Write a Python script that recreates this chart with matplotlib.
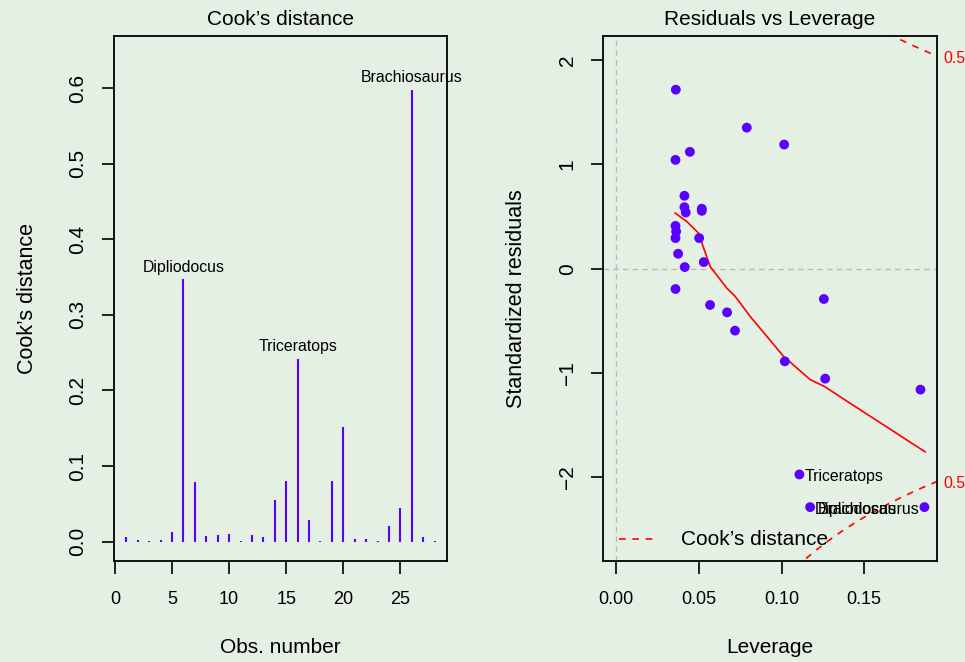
import numpy as np
import matplotlib.pyplot as plt

plt.rcParams['font.family'] = ['Liberation Sans', 'DejaVu Sans']

BG = '#E5F0E4'
PURPLE = '#5A00FF'

# Cook's distance per observation
obs = list(range(1, 29))
cooks = [0.0057, 0.002, 0.0013, 0.002, 0.0132, 0.347, 0.079, 0.0075, 0.0088, 0.0106,
         0.0004, 0.0093, 0.0066, 0.055, 0.080, 0.242, 0.029, 0.0005, 0.0795, 0.151,
         0.0035, 0.003, 0.0009, 0.020, 0.044, 0.598, 0.0062, 0.0003]
cook_labels = {6: 'Dipliodocus', 16: 'Triceratops', 26: 'Brachiosaurus'}

# residuals vs leverage
leverage = [0.0361, 0.079, 0.1016, 0.0446, 0.0359, 0.0413, 0.0413, 0.0421, 0.0518, 0.0518,
            0.0359, 0.0363, 0.0359, 0.0502, 0.0375, 0.053, 0.0415, 0.0359, 0.0568, 0.0671,
            0.0719, 0.1256, 0.102, 0.1264, 0.184, 0.1108, 0.1173, 0.1864]
std_resid = [1.716, 1.352, 1.19, 1.12, 1.043, 0.699, 0.59, 0.539, 0.575, 0.555,
             0.411, 0.357, 0.294, 0.294, 0.1435, 0.064, 0.016, -0.194, -0.347, -0.418,
             -0.593, -0.29, -0.887, -1.053, -1.158, -1.971, -2.284, -2.284]

# smoother through the residuals
smooth_x = [0.0357, 0.0427, 0.0498, 0.0568, 0.0669, 0.072, 0.081, 0.1012, 0.1173, 0.1264, 0.1374, 0.1868]
smooth_y = [0.533, 0.453, 0.342, 0.022, -0.185, -0.265, -0.456, -0.839, -1.062, -1.132, -1.247, -1.754]

n_params = 2
cook_level = 0.5

fig = plt.figure(figsize=(9.65, 6.62), dpi=100)
fig.patch.set_facecolor(BG)

# ---- left: Cook's distance ----
ax1 = fig.add_axes([0.1181, 0.1526, 0.3451, 0.7930])
ax1.set_facecolor(BG)
ax1.vlines(obs, 0, cooks, color=PURPLE, linewidth=1.5)
for i, name in cook_labels.items():
    ax1.text(i, cooks[i - 1] + 0.006, name, ha='center', va='bottom', fontsize=11.4)
ax1.set_xlim(-0.08, 29.08)
ax1.set_ylim(-0.0257, 0.669)
ax1.set_xticks([0, 5, 10, 15, 20, 25])
ax1.set_yticks([0.0, 0.1, 0.2, 0.3, 0.4, 0.5, 0.6])
ax1.set_yticklabels(['0.0', '0.1', '0.2', '0.3', '0.4', '0.5', '0.6'], rotation=90, va='center')
ax1.set_title("Cook\u2019s distance", fontsize=15, pad=8)
ax1.set_xlabel('Obs. number', fontsize=15, labelpad=22)
ax1.set_ylabel("Cook\u2019s distance", fontsize=15.5, labelpad=22)

# ---- right: residuals vs leverage ----
ax2 = fig.add_axes([0.6249, 0.1526, 0.3461, 0.7930])
ax2.set_facecolor(BG)
ax2.axhline(0, color='#BBBBBB', linestyle=(0, (4, 3)), linewidth=1)
ax2.axvline(0, color='#BBBBBB', linestyle=(0, (4, 3)), linewidth=1)
ax2.scatter(leverage, std_resid, s=50, color=PURPLE, zorder=3, edgecolors='none')
ax2.plot(smooth_x, smooth_y, color='red', linewidth=1.2)

hh = np.linspace(0.01, 0.1945, 200)
cc = np.sqrt(cook_level * n_params * (1 - hh) / hh)
ax2.plot(hh, cc, color='red', linestyle=(0, (4, 4)), linewidth=1.2)
ax2.plot(hh, -cc, color='red', linestyle=(0, (4, 4)), linewidth=1.2)

xl = (-0.0079, 0.194)
ax2.set_xlim(*xl)
ax2.set_ylim(-2.80, 2.23)
edge = np.sqrt(cook_level * n_params * (1 - xl[1]) / xl[1])
for s in (1, -1):
    ax2.text(1.02, s * edge - 0.02, '0.5', color='red', fontsize=11.4, va='center', ha='left',
             transform=ax2.get_yaxis_transform(), clip_on=False)

ax2.text(leverage[25] + 0.003, std_resid[25] - 0.02, 'Triceratops', fontsize=11.4, va='center', ha='left')
ax2.text(leverage[26] + 0.003, std_resid[26] - 0.02, 'Dipliodocus', fontsize=11.4, va='center', ha='left')
ax2.text(leverage[27] - 0.003, std_resid[27] - 0.02, 'Brachiosaurus', fontsize=11.4, va='center', ha='right')

ax2.plot([0.002, 0.026], [-2.59, -2.59], color='red', linestyle=(0, (4, 4)), linewidth=1.2)
ax2.text(0.039, -2.59, "Cook\u2019s distance", fontsize=15, va='center', ha='left')

ax2.set_xticks([0.00, 0.05, 0.10, 0.15])
ax2.set_xticklabels(['0.00', '0.05', '0.10', '0.15'])
ax2.set_yticks([-2, -1, 0, 1, 2])
ax2.set_yticklabels(['\u22122', '\u22121', '0', '1', '2'], rotation=90, va='center')
ax2.set_title('Residuals vs Leverage', fontsize=15, pad=8)
ax2.set_xlabel('Leverage', fontsize=15, labelpad=22)
ax2.set_ylabel('Standardized residuals', fontsize=15.5, labelpad=22)

for ax in (ax1, ax2):
    for sp in ax.spines.values():
        sp.set_linewidth(1.3)
    ax.tick_params(axis='both', direction='out', length=9, width=1.2)
    ax.tick_params(axis='x', labelsize=13, pad=12.5)
    ax.tick_params(axis='y', labelsize=15, pad=10)

fig.savefig('out.png', dpi=100, facecolor=BG)
